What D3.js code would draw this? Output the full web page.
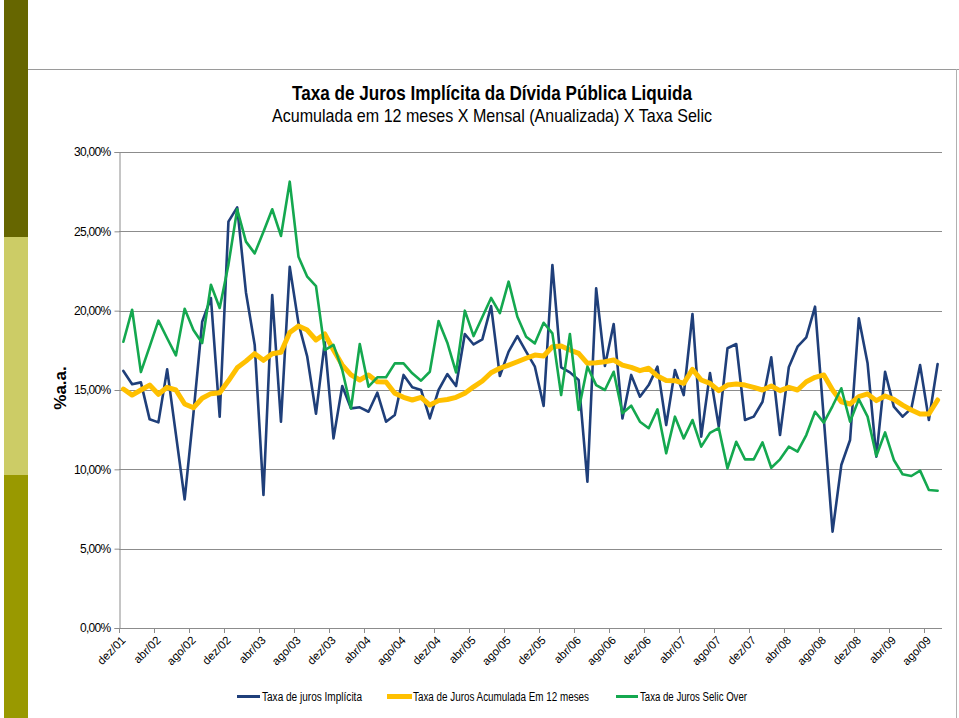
<!DOCTYPE html>
<html><head><meta charset="utf-8">
<script src="https://cdn.jsdelivr.net/npm/d3@7"></script>
<style>
html,body{margin:0;padding:0;background:#fff;}
svg{display:block;}
</style></head>
<body>
<svg id="c" width="959" height="718"></svg>
<script>
const categories = [
"dez/01",
"jan/02","fev/02","mar/02","abr/02","mai/02","jun/02","jul/02","ago/02","set/02","out/02","nov/02","dez/02",
"jan/03","fev/03","mar/03","abr/03","mai/03","jun/03","jul/03","ago/03","set/03","out/03","nov/03","dez/03",
"jan/04","fev/04","mar/04","abr/04","mai/04","jun/04","jul/04","ago/04","set/04","out/04","nov/04","dez/04",
"jan/05","fev/05","mar/05","abr/05","mai/05","jun/05","jul/05","ago/05","set/05","out/05","nov/05","dez/05",
"jan/06","fev/06","mar/06","abr/06","mai/06","jun/06","jul/06","ago/06","set/06","out/06","nov/06","dez/06",
"jan/07","fev/07","mar/07","abr/07","mai/07","jun/07","jul/07","ago/07","set/07","out/07","nov/07","dez/07",
"jan/08","fev/08","mar/08","abr/08","mai/08","jun/08","jul/08","ago/08","set/08","out/08","nov/08","dez/08",
"jan/09","fev/09","mar/09","abr/09","mai/09","jun/09","jul/09","ago/09","set/09"
];

// Taxa de juros Implícita (% a.a.)
const implicita = [
16.2,15.36,15.48,13.15,12.96,16.3,12.2,8.1,13.5,19.3,20.8,13.32,25.61,
26.51,21.15,17.84,8.38,20.99,13.0,22.77,19.2,17.1,13.5,18.0,11.95,
15.25,13.84,13.91,13.63,14.83,13.0,13.42,15.95,15.17,15.0,13.21,15.0,
16.0,15.25,18.53,17.87,18.19,20.29,15.88,17.42,18.4,17.42,16.47,13.99,
22.88,16.43,16.11,15.63,9.22,21.41,16.51,19.16,13.21,15.95,14.58,15.31,
16.47,12.79,16.26,14.68,19.79,12.06,16.07,12.69,17.63,17.9,13.11,13.32,
14.26,17.06,12.16,16.43,17.73,18.32,20.25,13.2,6.07,10.27,11.85,19.52,
16.68,10.8,16.15,13.95,13.32,13.84,16.57,13.11,16.64
];

// Taxa de Juros Acumulada Em 12 meses (% a.a.)
const acumulada = [
15.06,14.68,15.0,15.31,14.73,15.17,15.0,14.12,13.88,14.48,14.77,14.83,15.58,
16.4,16.82,17.29,16.87,17.28,17.38,18.62,19.03,18.78,18.15,18.53,17.52,
16.57,15.95,15.63,15.95,15.52,15.5,14.79,14.54,14.37,14.54,14.05,14.33,
14.4,14.54,14.79,15.2,15.57,16.09,16.37,16.57,16.78,17.0,17.2,17.14,
17.73,17.77,17.52,17.31,16.68,16.72,16.78,16.89,16.57,16.43,16.22,16.37,
15.88,15.6,15.59,15.42,16.3,15.63,15.42,14.96,15.31,15.38,15.31,15.17,
15.0,15.25,14.96,15.17,15.0,15.52,15.8,15.95,15.0,14.26,14.12,14.58,
14.75,14.33,14.62,14.41,14.05,13.74,13.49,13.49,14.37
];

// Taxa de Juros Selic Over (% a.a.)
const selic = [
18.04,20.06,16.13,17.73,19.37,18.26,17.18,20.12,18.78,17.96,21.63,20.17,22.9,
26.39,24.35,23.61,24.98,26.39,24.71,28.13,23.4,22.14,21.55,17.52,17.84,
16.26,13.84,17.9,15.21,15.8,15.8,16.68,16.68,16.05,15.59,16.15,19.35,
17.98,16.11,20.0,18.4,19.6,20.8,19.85,21.83,19.62,18.36,17.94,19.24,
18.57,14.68,18.53,13.74,16.47,15.31,15.0,16.15,13.53,14.01,13.0,12.59,
13.78,11.01,13.32,11.95,13.11,11.43,12.3,12.6,10.06,11.74,10.63,10.63,
11.7,10.1,10.63,11.43,11.11,12.16,13.63,12.94,13.99,15.11,13.0,14.41,
13.32,10.84,12.33,10.59,9.69,9.58,9.92,8.7,8.65
];

const yTicks = [0,5,10,15,20,25,30];
const seriesNames = ["Taxa de juros Implícita","Taxa de Juros Acumulada Em 12 meses","Taxa de Juros Selic Over"];
const seriesColors = ["#1F3F7A","#FFC000","#14A84F"];
const seriesWidths = [2.6,5,2.6];
const titleText = "Taxa de Juros Implícita da Dívida Pública Liquida";
const subtitleText = "Acumulada em 12 meses X Mensal (Anualizada) X Taxa Selic";
const yTitle = "%a.a.";

(function(){
const svg = d3.select("#c");
const NARROW = "'Liberation Sans Narrow','Arial Narrow','Liberation Sans',Arial,sans-serif";
const SANS = "'Liberation Sans',Arial,sans-serif";

// decorative left strip and frame
svg.append("rect").attr("x",4).attr("y",0).attr("width",24).attr("height",237).attr("fill","#666600");
svg.append("rect").attr("x",4).attr("y",237).attr("width",24).attr("height",238).attr("fill","#CCCC66");
svg.append("rect").attr("x",4).attr("y",475).attr("width",24).attr("height",243).attr("fill","#999900");
svg.append("line").attr("x1",28).attr("x2",959).attr("y1",69.5).attr("y2",69.5).attr("stroke","#9a9a9a").attr("stroke-width",1);
svg.append("line").attr("x1",956.5).attr("x2",956.5).attr("y1",69).attr("y2",718).attr("stroke","#b0b0b0").attr("stroke-width",1);

const pLeft=119, pRight=942, pTop=152, pBottom=628;
const x = d3.scaleBand().domain(categories).range([pLeft,pRight]).paddingInner(0).paddingOuter(0);
const y = d3.scaleLinear().domain([0,30]).range([pBottom,pTop]);
const cx = c => x(c) + x.bandwidth()/2;

// gridlines
svg.append("g").selectAll("line").data(yTicks.filter(d=>d>0)).join("line")
  .attr("x1",pLeft).attr("x2",pRight)
  .attr("y1",d=>Math.round(y(d))+0.5).attr("y2",d=>Math.round(y(d))+0.5)
  .attr("stroke","#8c8c8c").attr("stroke-width",1);

// y axis
const yAxis = d3.axisLeft(y).tickValues(yTicks).tickSize(5).tickPadding(4)
  .tickFormat(d => d.toFixed(2).replace(".",",")+"%");
const gy = svg.append("g").attr("transform",`translate(${pLeft+0.5},0)`).call(yAxis);
gy.select(".domain").attr("stroke","#8c8c8c");
gy.selectAll(".tick line").attr("stroke","#8c8c8c");
gy.selectAll(".tick text").attr("font-family",SANS).attr("font-size",12).attr("letter-spacing","-0.7px").attr("fill","#000");

// x axis line and ticks
svg.append("line").attr("x1",pLeft).attr("x2",pRight).attr("y1",pBottom+0.5).attr("y2",pBottom+0.5).attr("stroke","#8c8c8c");
const labelCats = categories.filter((c,i)=>i%4===0);
svg.append("g").selectAll("line").data(labelCats).join("line")
  .attr("x1",d=>Math.round(x(d))+0.5).attr("x2",d=>Math.round(x(d))+0.5)
  .attr("y1",pBottom).attr("y2",pBottom+5).attr("stroke","#8c8c8c");
svg.append("g").selectAll("text").data(labelCats).join("text")
  .attr("transform",d=>`translate(${cx(d)+3},${pBottom+13}) rotate(-45)`)
  .attr("text-anchor","end").attr("font-family",NARROW).attr("font-size",11.5)
  .attr("fill","#000").text(d=>d);

// lines
const allSeries = [implicita, acumulada, selic];
const line = d3.line().x((d,i)=>cx(categories[i])).y(d=>y(d)).curve(d3.curveLinear);
allSeries.forEach((s,k)=>{
  svg.append("path").datum(s).attr("d",line).attr("fill","none")
    .attr("stroke",seriesColors[k]).attr("stroke-width",seriesWidths[k])
    .attr("stroke-linejoin","round").attr("stroke-linecap","round");
});

// titles
svg.append("text").attr("x",492).attr("y",100).attr("text-anchor","middle")
  .attr("font-family",NARROW).attr("font-weight","bold").attr("font-size",21)
  .attr("textLength",400).attr("lengthAdjust","spacingAndGlyphs").text(titleText);
svg.append("text").attr("x",492).attr("y",122).attr("text-anchor","middle")
  .attr("font-family",NARROW).attr("font-size",19)
  .attr("textLength",440).attr("lengthAdjust","spacingAndGlyphs").text(subtitleText);

svg.append("text").attr("transform","translate(66,388) rotate(-90)").attr("text-anchor","middle")
  .attr("font-family",SANS).attr("font-weight","bold").attr("font-size",17).text(yTitle);

// legend
const legendItems = [
  {x1:237,x2:260,tx:262,tw:100},
  {x1:387,x2:412,tx:413,tw:176},
  {x1:616,x2:638,tx:640,tw:107}
];
legendItems.forEach((it,k)=>{
  svg.append("line").attr("x1",it.x1).attr("x2",it.x2).attr("y1",696.5).attr("y2",696.5)
    .attr("stroke",seriesColors[k]).attr("stroke-width",k===1?5:3);
  svg.append("text").attr("x",it.tx).attr("y",701).attr("font-family",NARROW).attr("font-size",12.5)
    .attr("textLength",it.tw).attr("lengthAdjust","spacingAndGlyphs").attr("fill","#000").text(seriesNames[k]);
});
})();
</script>
</body></html>
